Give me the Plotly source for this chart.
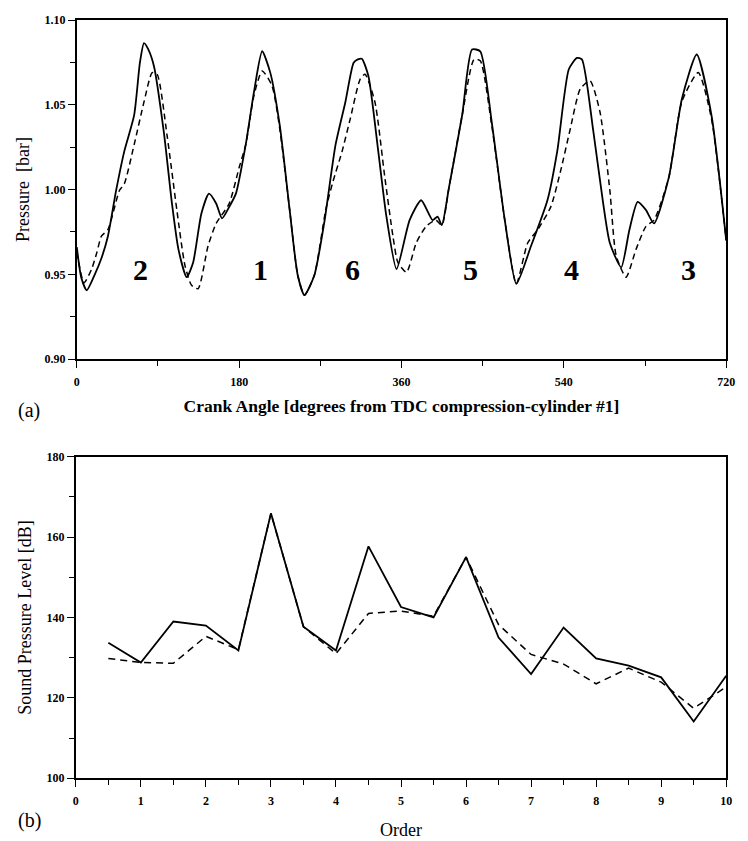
import plotly.graph_objects as go

# ---------- Panel (a): cylinder pressure vs crank angle ----------
angle_solid = [0, 5, 11, 20, 27, 34.5, 43.6, 52.7, 63.6, 70, 74.5, 79, 85.5, 96.4, 105.5, 112.7, 121.8,
               129, 138.2, 146.5, 154.5, 161, 169, 176.4, 187.3, 196.4, 205.5, 214.5, 225, 236, 245,
               252.4, 263.3, 274.2, 286.9, 297.8, 306.9, 311.6, 316, 323.3, 334.2, 343.3, 354.5,
               369, 381.8, 394.5, 400, 404.7, 412.7, 427.3, 438.2, 447.3, 460, 474.5, 487.3, 503.6,
               521.8, 532.7, 545.5, 554.5, 560, 572.7, 583.6, 590.9, 603.6, 612.7, 621.8, 630.9,
               640, 656.4, 670.9, 687.3, 703.6, 720]
pressure_solid = [0.966, 0.948, 0.9406, 0.950, 0.959, 0.9725, 0.9995, 1.0227, 1.0439, 1.075, 1.0864, 1.083,
                  1.0729, 1.0343, 0.9918, 0.9647, 0.9483, 0.957, 0.986, 0.9976, 0.9918, 0.983, 0.9898,
                  0.9976, 1.0265, 1.0575, 1.0816, 1.069, 1.038, 0.988, 0.9493, 0.9377, 0.9493, 0.980,
                  1.0265, 1.0517, 1.0748, 1.0768, 1.0772, 1.067, 1.0227, 0.984, 0.9531, 0.982, 0.9937,
                  0.982, 0.984, 0.979, 1.0014, 1.044, 1.0826, 1.0816, 1.040, 0.982, 0.9444, 0.9667,
                  0.9937, 1.0227, 1.071, 1.0777, 1.0768, 1.0343, 0.9918, 0.9686, 0.9541, 0.9763, 0.9927,
                  0.988, 0.980, 1.0072, 1.0536, 1.0797, 1.044, 0.9700]

angle_dashed = [0, 8, 16.4, 22.2, 27.3, 34.5, 47.3, 52.7, 63.6, 74.5, 83.6, 89.1, 100, 110.9, 120, 127.3,
                134.5, 145.5, 154.5, 169, 180, 187.3, 196.4, 205.5, 216.4, 225, 236, 245, 252.4, 263.3,
                276, 283.3, 294.2, 303.3, 314.2, 319.6, 330.5, 341.5, 350.5, 356, 365.5, 376.4, 387.3,
                398, 404.7, 412.7, 427.3, 440.4, 447.3, 460, 474.5, 487.3, 500, 511, 525.5, 536.4,
                547.3, 558.2, 569, 580, 591, 598, 609, 620, 631, 640, 656.4, 670.9, 689, 703.6, 720]
pressure_dashed = [0.963, 0.945, 0.953, 0.9628, 0.9725, 0.9763, 0.9995, 1.0034, 1.0265, 1.0517, 1.069,
                   1.068, 1.0323, 0.988, 0.955, 0.9435, 0.9415, 0.9667, 0.980, 0.9918, 1.013, 1.0265,
                   1.0555, 1.070, 1.0613, 1.036, 0.988, 0.9493, 0.9377, 0.9493, 0.988, 1.0034, 1.0227,
                   1.042, 1.0652, 1.068, 1.0517, 1.0072, 0.9725, 0.957, 0.9512, 0.9686, 0.9783, 0.982,
                   0.979, 1.0014, 1.044, 1.0768, 1.0760, 1.038, 0.982, 0.9444, 0.9686, 0.9763, 0.9898,
                   1.011, 1.0362, 1.0594, 1.0642, 1.0459, 0.9995, 0.961, 0.9483, 0.9647, 0.9783, 0.982,
                   1.0072, 1.052, 1.069, 1.042, 0.9700]

cyl_labels = ["2", "1", "6", "5", "4", "3"]
cyl_label_angles = [71, 204, 305.5, 436, 549, 678.5]
cyl_label_pressure = 0.953

# ---------- Panel (b): sound pressure level vs order ----------
orders = [0.5, 1, 1.5, 2, 2.5, 3, 3.5, 4, 4.5, 5, 5.5, 6, 6.5, 7, 7.5, 8, 8.5, 9, 9.5, 10]
spl_solid = [133.7, 128.8, 139.0, 138.0, 131.8, 165.9, 137.7, 131.8, 157.7, 142.6,
             140.0, 155.0, 135.0, 125.9, 137.5, 129.8, 128.0, 125.1, 114.1, 125.5]
spl_dashed = [129.8, 128.8, 128.6, 135.3, 132.0, 165.9, 137.7, 131.0, 141.0, 141.6,
              140.3, 155.0, 138.2, 130.8, 128.4, 123.5, 127.4, 123.9, 117.4, 122.7]

SERIF = "Liberation Serif"
BLACK = "black"

fig = go.Figure()

fig.add_trace(go.Scatter(x=angle_dashed, y=pressure_dashed, mode="lines",
                         line=dict(color=BLACK, width=1.5, dash="6px,4px", shape="spline", smoothing=0.6),
                         xaxis="x", yaxis="y", showlegend=False))
fig.add_trace(go.Scatter(x=angle_solid, y=pressure_solid, mode="lines",
                         line=dict(color=BLACK, width=1.8, shape="spline", smoothing=0.6),
                         xaxis="x", yaxis="y", showlegend=False))

fig.add_trace(go.Scatter(x=orders, y=spl_dashed, mode="lines",
                         line=dict(color=BLACK, width=1.5, dash="7px,5px"),
                         xaxis="x2", yaxis="y2", showlegend=False))
fig.add_trace(go.Scatter(x=orders, y=spl_solid, mode="lines",
                         line=dict(color=BLACK, width=1.8),
                         xaxis="x2", yaxis="y2", showlegend=False))

tickfont = dict(family=SERIF, size=12, color=BLACK, weight="bold")
xtitle_font = dict(family=SERIF, size=17.5, color=BLACK, weight="bold")
reg_title_font = dict(family=SERIF, size=18, color=BLACK)

axis_common = dict(showline=True, linecolor=BLACK, linewidth=1.6, mirror=True,
                   ticks="outside", ticklen=7, tickwidth=1.4, tickcolor=BLACK,
                   showgrid=False, zeroline=False, tickfont=tickfont)
minor_common = dict(ticks="outside", ticklen=5, tickwidth=1.3, tickcolor=BLACK)

annotations = []
for lab, ang in zip(cyl_labels, cyl_label_angles):
    annotations.append(dict(x=ang, y=cyl_label_pressure, xref="x", yref="y", text=lab,
                            showarrow=False, font=dict(family=SERIF, size=30, color=BLACK, weight="bold")))
annotations.append(dict(x=13 / 748, y=1 - 410 / 841, xref="paper", yref="paper", text="(a)",
                        showarrow=False, xanchor="left", yanchor="middle",
                        font=dict(family=SERIF, size=20, color=BLACK)))
annotations.append(dict(x=13 / 748, y=1 - 827 / 841, xref="paper", yref="paper", text="(b)",
                        showarrow=False, xanchor="left", yanchor="middle",
                        font=dict(family=SERIF, size=20, color=BLACK)))

fig.update_layout(
    width=748, height=841,
    margin=dict(l=0, r=0, t=0, b=0),
    paper_bgcolor="white", plot_bgcolor="white",
    xaxis=dict(axis_common, domain=[75 / 748, 735 / 748], range=[0, 720],
               tickvals=[0, 180, 360, 540, 720], ticklabelstandoff=4,
               minor=dict(minor_common, tickvals=[90, 270, 450, 630]),
               anchor="y",
               title=dict(text="Crank Angle [degrees from TDC compression-cylinder #1]",
                          font=xtitle_font, standoff=12)),
    yaxis=dict(axis_common, domain=[1 - 358 / 841, 1 - 13.3 / 841], range=[0.90, 1.10],
               tickvals=[0.90, 0.95, 1.00, 1.05, 1.10], tickformat=".2f",
               minor=dict(minor_common, tickvals=[0.925, 0.975, 1.025, 1.075]),
               anchor="x",
               title=dict(text="Pressure  [bar]", font=reg_title_font, standoff=10)),
    xaxis2=dict(axis_common, domain=[74 / 748, 735 / 748], range=[0, 10],
                tickvals=list(range(0, 11)), ticklabelstandoff=4,
                minor=dict(minor_common, tickvals=[i + 0.5 for i in range(10)]),
                anchor="y2",
                title=dict(text="Order", font=reg_title_font, standoff=16)),
    yaxis2=dict(axis_common, domain=[1 - 784.3 / 841, 1 - 457.3 / 841], range=[100, 180],
                tickvals=[100, 120, 140, 160, 180],
                minor=dict(minor_common, tickvals=[110, 130, 150, 170]),
                anchor="x2",
                title=dict(text="Sound Pressure Level [dB]", font=reg_title_font, standoff=10)),
    annotations=annotations,
)

fig.write_html("out.html")
